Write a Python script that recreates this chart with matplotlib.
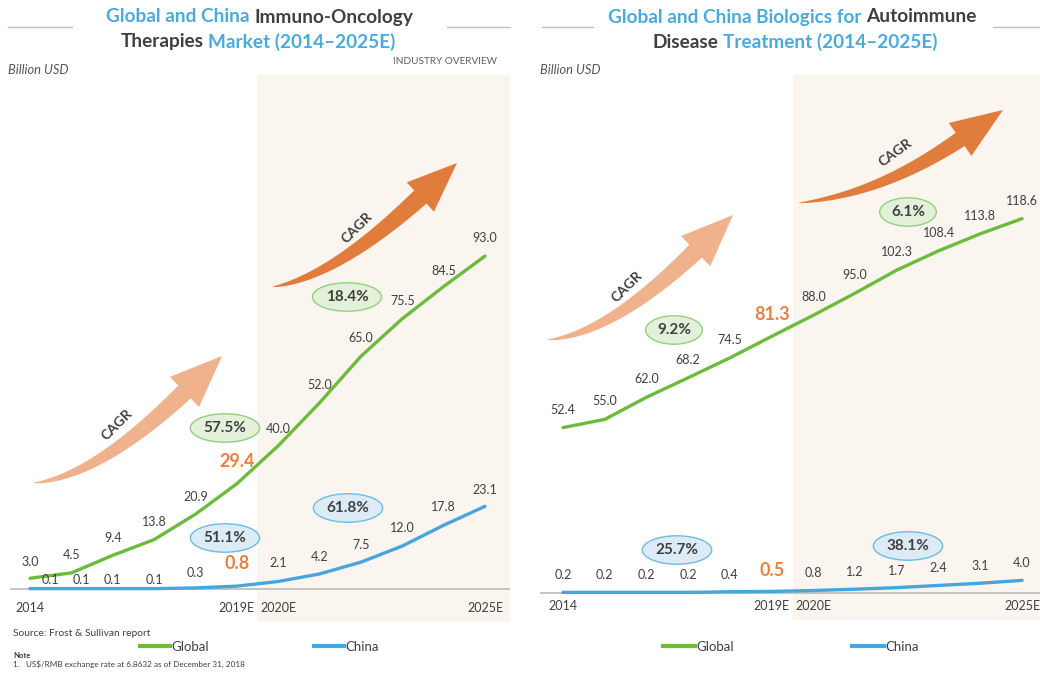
import matplotlib
matplotlib.use("Agg")
import numpy as np
import matplotlib.pyplot as plt
from matplotlib.patches import Polygon
from matplotlib.lines import Line2D

plt.rcParams['font.family'] = ['Lato', 'DejaVu Sans']

# ---------------- data ----------------
years = ["2014", "2015", "2016", "2017", "2018", "2019E",
         "2020E", "2021E", "2022E", "2023E", "2024E", "2025E"]
tick_idx = [0, 5, 6, 11]

io_global = [3.0, 4.5, 9.4, 13.8, 20.9, 29.4, 40.0, 52.0, 65.0, 75.5, 84.5, 93.0]
io_china = [0.1, 0.1, 0.1, 0.1, 0.3, 0.8, 2.1, 4.2, 7.5, 12.0, 17.8, 23.1]
ai_global = [52.4, 55.0, 62.0, 68.2, 74.5, 81.3, 88.0, 95.0, 102.3, 108.4, 113.8, 118.6]
ai_china = [0.2, 0.2, 0.2, 0.2, 0.4, 0.5, 0.8, 1.2, 1.7, 2.4, 3.1, 4.0]

io_cagr_global = ["57.5%", "18.4%"]
io_cagr_china = ["51.1%", "61.8%"]
ai_cagr_global = ["9.2%", "6.1%"]
ai_cagr_china = ["25.7%", "38.1%"]

# ---------------- styles ----------------
W, H = 1040, 674
GREEN = "#6DBB3C"
BLUE = "#47A6DC"
DARK = "#404040"
TBLUE = "#4AABDB"
ORANGE = "#E8803F"
LIGHT_ARROW = "#F0B28C"
DARK_ARROW = "#E07D3C"
SHADE = "#FBF5F0"
HL = 5  # highlighted index (2019E)


def fx(x):
    return x / W


def fy(y):
    return 1 - y / H


fig = plt.figure(figsize=(W / 100, H / 100), dpi=100)
fig.patch.set_facecolor("white")

axL = fig.add_axes([fx(10), fy(622), 500 / W, (622 - 75) / H])
axR = fig.add_axes([fx(540), fy(620), 500 / W, (620 - 75) / H])

axL.set_xlim(-0.484, 11.605)
axL.set_ylim(-9.22, 143.6)
axR.set_xlim(-0.551, 11.43)
axR.set_ylim(-8.55, 164.1)

PT = 0.72  # px -> pt


def setup(ax):
    for s in ax.spines.values():
        s.set_visible(False)
    ax.set_yticks([])
    ax.set_xticks(tick_idx)
    ax.set_xticklabels([years[i] for i in tick_idx], fontsize=9, color=DARK)
    ax.tick_params(axis="x", length=0, pad=-14.5)
    ax.axvspan(5.5, ax.get_xlim()[1], color=SHADE, zorder=0, lw=0)
    ax.axhline(0, color="#BFBFBF", lw=1.3, zorder=1)
    ax.set_facecolor("white")


setup(axL)
setup(axR)

x = list(range(len(years)))


def draw_series(ax, vals, color, dys, dxs=None):
    ax.plot(x, vals, color=color, lw=2.4, solid_capstyle="round", zorder=3)
    for i, v in enumerate(vals):
        dx = dxs[i] if dxs else 0
        if i == HL:
            ax.annotate(f"{v:.1f}", (i, v), xytext=(dx * PT, (dys[i] + 4) * PT),
                        textcoords="offset points", ha="center", va="center",
                        fontsize=13, fontweight="bold", color=ORANGE,
                        annotation_clip=False, zorder=5)
        else:
            ax.annotate(f"{v:.1f}", (i, v), xytext=(dx * PT, dys[i] * PT),
                        textcoords="offset points", ha="center", va="center",
                        fontsize=9, color=DARK, annotation_clip=False, zorder=5)


draw_series(axL, io_global, GREEN, [16, 18, 17, 18, 17, 18, 17, 18, 18, 18, 16, 18])
draw_series(axL, io_china, BLUE, [9, 9, 9, 9, 15, 19, 18, 17, 17, 18, 18, 16],
            dxs=[20, 10, 0, 0, 0, 0, 0, 0, 0, 0, 0, 0])
draw_series(axR, ai_global, GREEN, [18] * 12)
draw_series(axR, ai_china, BLUE, [17] * 12)


# ---------------- CAGR ellipses ----------------
def bubble(txt, cx, cy, kind):
    if kind == "g":
        fc, ec = "#E3F1DA", "#94D07E"
    else:
        fc, ec = "#DCEBF6", "#6CBCE4"
    fig.text(fx(cx), fy(cy), txt, ha="center", va="center", fontsize=11,
             fontweight="bold", color=DARK,
             bbox=dict(boxstyle="ellipse,pad=0.2", fc=fc, ec=ec, lw=1.0))


bubble(io_cagr_global[0], 225, 428, "g")
bubble(io_cagr_global[1], 347, 297, "g")
bubble(io_cagr_china[0], 225, 538, "b")
bubble(io_cagr_china[1], 348, 508, "b")
bubble(ai_cagr_global[0], 674, 330, "g")
bubble(ai_cagr_global[1], 908, 212, "g")
bubble(ai_cagr_china[0], 677, 550, "b")
bubble(ai_cagr_china[1], 908, 546, "b")


# ---------------- CAGR arrows (tapered swoosh) ----------------
def cagr_arrow(p0, p1, tip, color, head_len=52, head_w=42, tail_w=18):
    p0, p1, tip = np.array(p0, float), np.array(p1, float), np.array(tip, float)
    d = tip - p1
    d /= np.hypot(*d)
    p2 = tip - d * head_len
    t = np.linspace(0, 1, 60)[:, None]
    pts = (1 - t) ** 2 * p0 + 2 * (1 - t) * t * p1 + t ** 2 * p2
    tan = 2 * (1 - t) * (p1 - p0) + 2 * t * (p2 - p1)
    tan /= np.hypot(tan[:, 0], tan[:, 1])[:, None]
    nrm = np.column_stack([tan[:, 1], -tan[:, 0]])
    w = tail_w * (t[:, 0] ** 0.75)
    upper = pts + nrm * (w[:, None] / 2)
    lower = pts - nrm * (w[:, None] / 2)
    nend = np.array([d[1], -d[0]])
    head = [p2 + nend * head_w / 2, tip, p2 - nend * head_w / 2]
    poly = np.vstack([upper, head, lower[::-1]])
    figpts = np.column_stack([poly[:, 0] / W, 1 - poly[:, 1] / H])
    fig.patches.append(Polygon(figpts, closed=True, transform=fig.transFigure,
                               fc=color, ec="none", zorder=2))


def cagr_text(tx, ty, rot):
    fig.text(fx(tx), fy(ty), "CAGR", rotation=rot, ha="center", va="center",
             fontsize=10, fontweight="bold", color=DARK, rotation_mode="anchor")


cagr_arrow((33, 483), (95, 478), (222, 356), LIGHT_ARROW)
cagr_text(117, 425, 45)
cagr_arrow((272, 287), (333, 278), (457, 163), DARK_ARROW, head_len=50, head_w=40)
cagr_text(357, 228, 45)
cagr_arrow((547, 340), (609, 335), (733, 215), LIGHT_ARROW)
cagr_text(627, 287, 45)
cagr_arrow((798, 203), (879, 195), (1003, 110), DARK_ARROW, head_len=52, head_w=40, tail_w=16)
cagr_text(895, 153, 36)

# ---------------- titles ----------------
renderer = fig.canvas.get_renderer()


def title_line(segments, cx, cy, size=13.7):
    probe1 = fig.text(0, 0, "ab", fontsize=size, fontweight="bold")
    probe2 = fig.text(0, 0, "a b", fontsize=size, fontweight="bold")
    sp = probe2.get_window_extent(renderer).width - probe1.get_window_extent(renderer).width
    probe1.remove()
    probe2.remove()
    texts = []
    for s, c in segments:
        texts.append(fig.text(0, fy(cy), s, color=c, fontsize=size,
                              fontweight="bold", ha="left", va="center"))
    widths = [t.get_window_extent(renderer).width for t in texts]
    total = sum(widths) + sp * (len(texts) - 1)
    xx = cx - total / 2
    for t, w in zip(texts, widths):
        t.set_x(fx(xx))
        xx += w + sp


title_line([("Global and China", TBLUE), ("Immuno-Oncology", DARK)], 260, 17)
title_line([("Therapies", DARK), ("Market (2014–2025E)", TBLUE)], 258, 42)
title_line([("Global and China Biologics for", TBLUE), ("Autoimmune", DARK)], 792, 17)
title_line([("Disease", DARK), ("Treatment (2014–2025E)", TBLUE)], 795, 42)

for (a, b) in [(8, 72), (447, 510), (542, 593), (993, 1040)]:
    fig.add_artist(Line2D([fx(a), fx(b)], [fy(27), fy(27)], color="#BFBFBF",
                          lw=1.0, transform=fig.transFigure))

fig.text(fx(8), fy(70), "Billion USD", fontsize=9.3, style="italic", color="#555555",
         ha="left", va="center")
fig.text(fx(540), fy(70), "Billion USD", fontsize=9.3, style="italic", color="#555555",
         ha="left", va="center")
fig.text(fx(497), fy(62), "INDUSTRY OVERVIEW", fontsize=7.2, color="#606060",
         ha="right", va="center")

# ---------------- legends ----------------
handles = [Line2D([], [], color=GREEN, lw=3), Line2D([], [], color=BLUE, lw=3)]
axL.legend(handles, ["Global", "China"], ncol=2, loc="center left",
           bbox_to_anchor=(fx(140), fy(647)), bbox_transform=fig.transFigure,
           frameon=False, handlelength=2.3, handletextpad=0.1, columnspacing=7.9,
           borderpad=0, borderaxespad=0, fontsize=9.5, labelcolor=DARK)
axR.legend(handles, ["Global", "China"], ncol=2, loc="center left",
           bbox_to_anchor=(fx(663), fy(647)), bbox_transform=fig.transFigure,
           frameon=False, handlelength=2.4, handletextpad=0.1, columnspacing=9.0,
           borderpad=0, borderaxespad=0, fontsize=9.5, labelcolor=DARK)

# ---------------- footnotes ----------------
fig.text(fx(13), fy(633), "Source: Frost & Sullivan report", fontsize=7.4, color=DARK,
         ha="left", va="center")
fig.text(fx(13), fy(655), "Note", fontsize=5.5, fontweight="bold", color=DARK,
         ha="left", va="center")
fig.text(fx(13), fy(664), "1.   US$/RMB exchange rate at 6.8632 as of December 31, 2018",
         fontsize=5.9, color=DARK, ha="left", va="center")

fig.savefig("out.png", dpi=100)
